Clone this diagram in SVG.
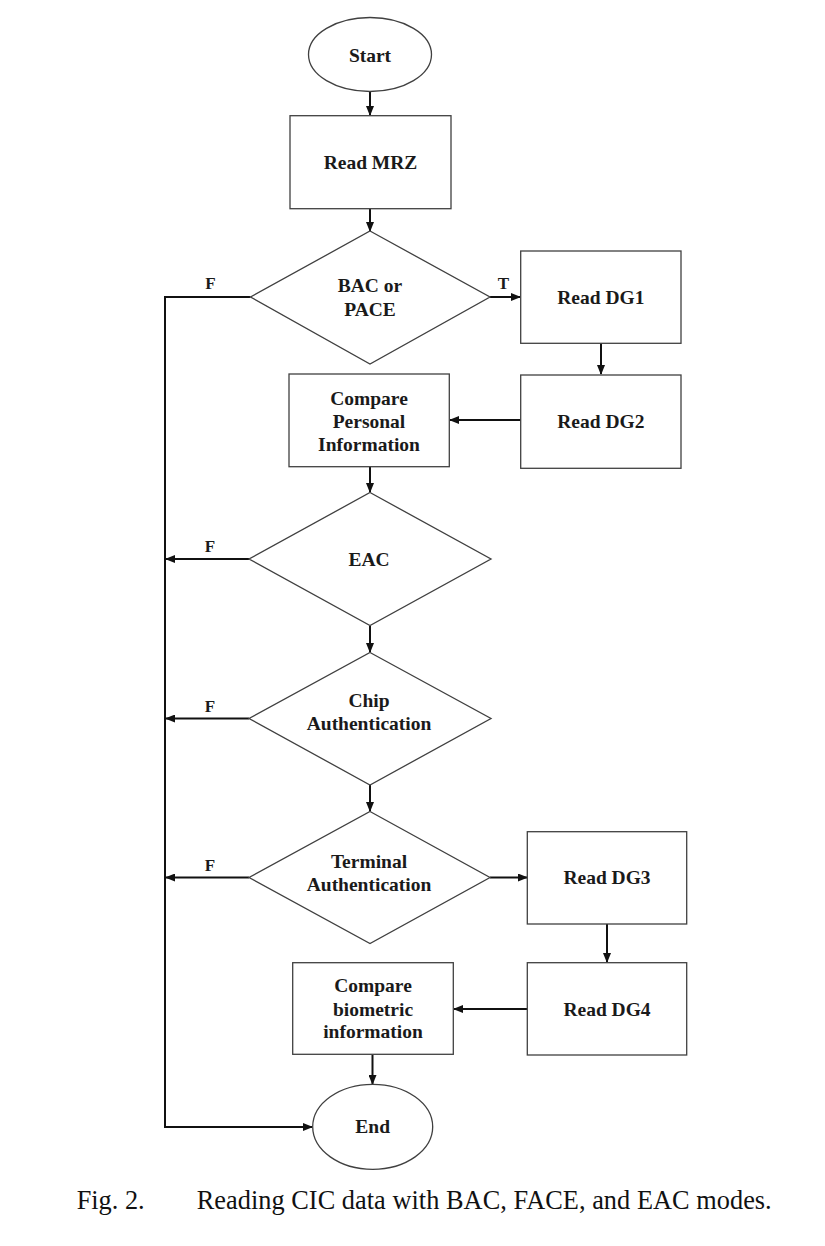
<svg xmlns="http://www.w3.org/2000/svg" width="825" height="1246" viewBox="0 0 825 1246">
<style>
.bg{fill:#ffffff}
.shape{fill:#ffffff;stroke:#404040;stroke-width:1.3}
.lbl{font-family:"Liberation Serif","Times New Roman",serif;font-weight:bold;font-size:19.5px;fill:#1a1a1a;text-anchor:middle}
.tf{font-family:"Liberation Serif","Times New Roman",serif;font-weight:bold;font-size:17px;fill:#1a1a1a;text-anchor:middle}
.conn{fill:none;stroke:#111111;stroke-width:2}
.cap{font-family:"Liberation Serif","Times New Roman",serif;font-size:26.3px;fill:#111111}
</style>
<defs>
<marker id="arr" markerUnits="userSpaceOnUse" markerWidth="10" markerHeight="8" refX="9" refY="4" orient="auto">
<path d="M0,0 L10,4 L0,8 z" fill="#111111"/>
</marker>
</defs>
<rect class="bg" x="0" y="0" width="825" height="1246"/>

<g id="connectors">
<line class="conn" x1="370" y1="92" x2="370" y2="115" marker-end="url(#arr)"/>
<line class="conn" x1="370" y1="209" x2="370" y2="231" marker-end="url(#arr)"/>
<line class="conn" x1="490" y1="297" x2="520" y2="297" marker-end="url(#arr)"/>
<line class="conn" x1="601" y1="343" x2="601" y2="374" marker-end="url(#arr)"/>
<line class="conn" x1="521" y1="420" x2="450" y2="420" marker-end="url(#arr)"/>
<line class="conn" x1="370" y1="467" x2="370" y2="492" marker-end="url(#arr)"/>
<line class="conn" x1="370" y1="626" x2="370" y2="652" marker-end="url(#arr)"/>
<line class="conn" x1="370" y1="785" x2="370" y2="811" marker-end="url(#arr)"/>
<line class="conn" x1="490" y1="877.5" x2="527" y2="877.5" marker-end="url(#arr)"/>
<line class="conn" x1="607" y1="924" x2="607" y2="962" marker-end="url(#arr)"/>
<line class="conn" x1="527" y1="1009" x2="454" y2="1009" marker-end="url(#arr)"/>
<line class="conn" x1="372.5" y1="1055" x2="372.5" y2="1084" marker-end="url(#arr)"/>
<polyline class="conn" points="250.5,297 165,297 165,1127 312,1127" marker-end="url(#arr)"/>
<line class="conn" x1="249" y1="559" x2="166" y2="559" marker-end="url(#arr)"/>
<line class="conn" x1="249" y1="718.5" x2="166" y2="718.5" marker-end="url(#arr)"/>
<line class="conn" x1="249" y1="877.5" x2="166" y2="877.5" marker-end="url(#arr)"/>
<text class="tf" x="210.5" y="289">F</text>
<text class="tf" x="503.5" y="289">T</text>
<text class="tf" x="210" y="551.6">F</text>
<text class="tf" x="210" y="712.3">F</text>
<text class="tf" x="210" y="870.6">F</text>
</g>

<g id="start">
<ellipse class="shape" cx="370" cy="54.5" rx="61.5" ry="37"/>
<text class="lbl" x="370" y="61.5">Start</text>
</g>
<g id="read-mrz">
<rect class="shape" x="290" y="115.7" width="161" height="93"/>
<text class="lbl" x="370.5" y="169.2">Read MRZ</text>
</g>
<g id="bac-pace">
<polygon class="shape" points="370,231 490,297 370,364 250.5,297"/>
<text class="lbl" x="370" y="292.2">BAC or</text>
<text class="lbl" x="370" y="315.5">PACE</text>
</g>
<g id="read-dg1">
<rect class="shape" x="520.7" y="251" width="160.3" height="92.3"/>
<text class="lbl" x="600.8" y="303.8">Read DG1</text>
</g>
<g id="read-dg2">
<rect class="shape" x="520.7" y="375" width="160.3" height="93.3"/>
<text class="lbl" x="600.8" y="428.2">Read DG2</text>
</g>
<g id="compare-personal">
<rect class="shape" x="289" y="374" width="160.3" height="92.7"/>
<text class="lbl" x="369" y="405.2">Compare</text>
<text class="lbl" x="369" y="428.2">Personal</text>
<text class="lbl" x="369" y="451.2">Information</text>
</g>
<g id="eac">
<polygon class="shape" points="370,492.5 491,559 370,625.5 249,559"/>
<text class="lbl" x="369" y="565.5">EAC</text>
</g>
<g id="chip-auth">
<polygon class="shape" points="370,652.5 491,718.5 370,785 249,718.5"/>
<text class="lbl" x="369" y="707.2">Chip</text>
<text class="lbl" x="369" y="730.2">Authentication</text>
</g>
<g id="terminal-auth">
<polygon class="shape" points="370,811.5 490,877.5 370,943.5 249,877.5"/>
<text class="lbl" x="369" y="868.2">Terminal</text>
<text class="lbl" x="369" y="891.2">Authentication</text>
</g>
<g id="read-dg3">
<rect class="shape" x="527.3" y="831.7" width="159.4" height="92.3"/>
<text class="lbl" x="607" y="883.8">Read DG3</text>
</g>
<g id="read-dg4">
<rect class="shape" x="527.3" y="962.7" width="159.4" height="92.3"/>
<text class="lbl" x="607" y="1015.5">Read DG4</text>
</g>
<g id="compare-biometric">
<rect class="shape" x="292.7" y="962.7" width="160.6" height="91.6"/>
<text class="lbl" x="373" y="992.2">Compare</text>
<text class="lbl" x="373" y="1015.5">biometric</text>
<text class="lbl" x="373" y="1038.2">information</text>
</g>
<g id="end">
<ellipse class="shape" cx="372.7" cy="1126.8" rx="60" ry="42.5"/>
<text class="lbl" x="372.7" y="1133.2">End</text>
</g>

<g id="caption">
<text class="cap" x="76.7" y="1209">Fig. 2.</text>
<text class="cap" x="196.7" y="1209" textLength="575" lengthAdjust="spacing">Reading CIC data with BAC, FACE, and EAC modes.</text>
</g>
</svg>
